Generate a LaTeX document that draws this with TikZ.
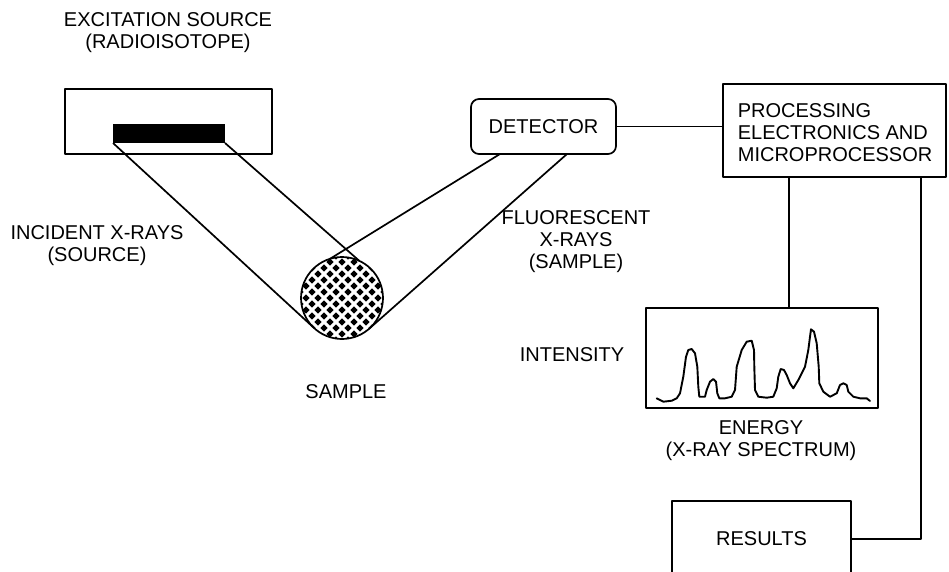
\documentclass[tikz,border=0pt]{standalone}
\usepackage{fontspec}
\setmainfont{Liberation Sans}
\usetikzlibrary{calc}
\begin{document}
\begin{tikzpicture}[x=1pt,y=-1pt,line width=1.7pt,line join=round,
  box/.style={draw,rectangle,inner sep=0pt,outer sep=0pt,font=\fontsize{20}{22}\selectfont},
  lbl/.style={align=center,inner sep=0pt,font=\fontsize{20}{22}\selectfont},
  curve/.style={line width=1.9pt,line join=round,line cap=round}]
\useasboundingbox (0,0) rectangle (949,571);
\clip (0,0) rectangle (949,571);

% boxes
\node[box,minimum width=207pt,minimum height=65pt] (source) at (168.5,121.5) {};
\node[fill,inner sep=0pt,outer sep=0pt,minimum width=112pt,minimum height=19pt] (bar) at (169,133.5) {};
\node[box,rounded corners=8pt,minimum width=145pt,minimum height=55pt] (det) at (543.5,126.5) {DETECTOR};
\node[box,minimum width=223pt,minimum height=93pt] (proc) at (834.5,130.5) {};
\node[lbl,align=left,anchor=west] (proctext) at (737,133) {PROCESSING\\ELECTRONICS AND\\MICROPROCESSOR};
\node[box,minimum width=232pt,minimum height=100pt] (spec) at (762,358) {};
\node[box,minimum width=179pt,minimum height=76pt] (res) at (761.5,539) {RESULTS};

% sample with diamond pattern
\begin{scope}
  \clip (342,298) circle (41pt);
  \foreach \j in {0,...,16}{
    \foreach \i in {-4,...,4}{
      \pgfmathsetmacro{\xx}{342+12*\i+6*mod(\j,2)}
      \pgfmathsetmacro{\yy}{298+6*(\j-8)}
      \fill (\xx,\yy) +(-3.7,0) -- +(0,-3.7) -- +(3.7,0) -- +(0,3.7) -- cycle;
    }
  }
\end{scope}
\node[circle,draw,minimum size=82pt,inner sep=0pt,outer sep=0pt] (sample) at (342,298) {};

% rays
\draw (bar.south west) -- (sample.227);
\draw (bar.south east) -- (sample.65);
\coordinate (detL) at ($(det.south)+(-43.5,0)$);
\coordinate (detR) at ($(det.south)+(23.5,0)$);
\draw (detL) -- (sample.107);
\draw (detR) -- (sample.311);

% connectors
\draw (det.east) -- (det.east -| proc.west);
\coordinate (tapA) at (789,0);
\coordinate (tapB) at (921,0);
\draw (proc.south -| tapA) -- (spec.north -| tapA);
\draw (proc.south -| tapB) -- (tapB |- res.east) -- (res.east);

% spectrum
\draw[curve] plot coordinates {
(656.7,398.3) (663.3,401.7) (671.7,400.7) (676.7,398.3) (680,393.3) (683.3,376.7)
(686,356.7) (688.3,350) (691.7,349) (695,353.3) (697.3,366.7) (698.3,386.7)
(699.3,396.7) (705,396.7) (706.7,390) (710,381.7) (713.3,379) (716,381.7)
(717.3,393.3) (719.3,398.3) (725,398.3) (731.7,396.7) (735,390) (736.7,366.7)
(741.7,350) (746.7,341.7) (751.7,340.7) (754,350) (754.3,366.7) (755,390)
(758.3,396.7) (766.7,397.7) (773.3,396.7) (776.7,388.3) (778.3,376.7) (780.7,369)
(784,370) (786.7,375) (790,383.3) (793.3,388.3) (798.3,380) (805,366.7)
(808.3,350) (810,336.7) (811,329.3) (814,331.7) (816.7,343.3) (818.7,366.7)
(819.3,383.3) (823.3,391.7) (830,396.7) (836.7,393.3) (840,385) (843.3,383.3)
(846.7,385) (848.3,391.7) (853.3,396.7) (860,398.3) (866.7,398.3) (870,401)};

% labels
\node[lbl] (lsrc) at (168,33) {EXCITATION SOURCE\\(RADIOISOTOPE)};
\node[lbl] (linc) at (97,245.5) {INCIDENT X-RAYS\\(SOURCE)};
\node[lbl] (lflu) at (576,242) {FLUORESCENT\\X-RAYS\\(SAMPLE)};
\node[lbl] (lint) at (572,355) {INTENSITY};
\node[lbl] (lsam) at (346,392) {SAMPLE};
\node[lbl] (lene) at (761,441) {ENERGY\\(X-RAY SPECTRUM)};
\end{tikzpicture}
\end{document}
